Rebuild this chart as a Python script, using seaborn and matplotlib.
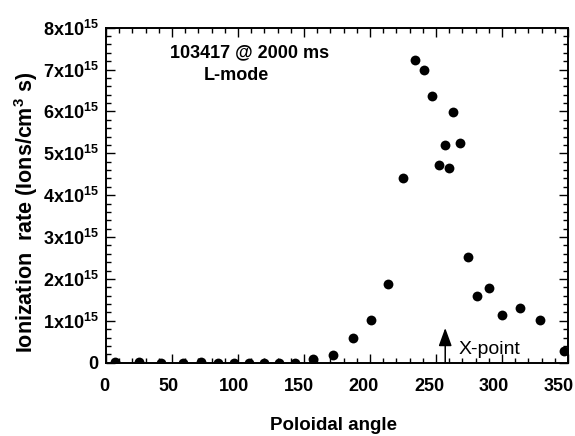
import matplotlib
matplotlib.use("Agg")
import matplotlib.pyplot as plt
import seaborn as sns
import pandas as pd
from matplotlib.ticker import MultipleLocator, FixedLocator, FuncFormatter
from matplotlib.transforms import ScaledTranslation

# poloidal angle (deg) and ionization rate (units of 1e15 ions/cm^3 s)
angle = [7, 25, 42, 58, 72, 85, 97, 108, 120, 131, 143, 157, 172, 187, 201,
         214, 225, 234, 241, 247, 252, 257, 260, 263, 268, 274, 281, 290,
         300, 314, 329, 347]
rate = [0.02, 0.01, 0.0, 0.0, 0.01, 0.0, 0.0, 0.0, 0.0, 0.0, 0.0, 0.08,
        0.19, 0.58, 1.02, 1.88, 4.40, 7.24, 6.99, 6.38, 4.73, 5.19, 4.65,
        5.98, 5.24, 2.53, 1.59, 1.78, 1.13, 1.30, 1.01, 0.28]
xticks = [0, 50, 100, 150, 200, 250, 300, 350]
yticks = [0, 1, 2, 3, 4, 5, 6, 7, 8]
xpoint_angle = 257
xpoint_arrow_top = 0.83

df = pd.DataFrame({"angle": angle, "rate": [r * 1e15 for r in rate]})

sns.set_style("ticks")
plt.rcParams["font.family"] = ["Liberation Sans", "DejaVu Sans"]
plt.rcParams["mathtext.fontset"] = "custom"
plt.rcParams["mathtext.rm"] = "Liberation Sans"
plt.rcParams["mathtext.bf"] = "Liberation Sans:bold"
plt.rcParams["mathtext.it"] = "Liberation Sans:italic"
for key in ["text.color", "axes.labelcolor", "xtick.color", "ytick.color",
            "axes.edgecolor"]:
    plt.rcParams[key] = "black"

fig = plt.figure(figsize=(5.75, 4.36), dpi=100)
ax = fig.add_axes([0.1843, 0.1681, 0.8035, 0.7684])

sns.scatterplot(data=df, x="angle", y="rate", color="black", s=50,
                linewidth=0, ax=ax, legend=False)

ax.set_xlim(0, 350)
ax.set_ylim(0, 8e15)

ax.xaxis.set_major_locator(FixedLocator(xticks))
ax.xaxis.set_minor_locator(MultipleLocator(10))
ax.yaxis.set_major_locator(FixedLocator([v * 1e15 for v in yticks]))
ax.yaxis.set_minor_locator(MultipleLocator(0.2e15))


def ylab(v, pos):
    n = int(round(v / 1e15))
    if n == 0:
        return r"$\mathbf{0}\hspace{1.6}$"
    return r"$\mathbf{%dx10^{15}}$" % n


ax.yaxis.set_major_formatter(FuncFormatter(ylab))
ax.set_xticklabels([str(t) for t in xticks], fontweight="bold")

ax.tick_params(which="both", direction="in", top=True, right=True,
               width=1.0, colors="black")
ax.tick_params(which="major", length=6.5, labelsize=13)
ax.tick_params(which="minor", length=3.6)
ax.tick_params(axis="x", which="major", pad=11)
ax.tick_params(axis="y", which="major", pad=5)

# the original x tick labels drift slightly left of their ticks
for i, lab in enumerate(ax.get_xticklabels()):
    shift = (2 + i * 1.0) / 100.0
    lab.set_transform(lab.get_transform()
                      + ScaledTranslation(-shift, 0, fig.dpi_scale_trans))

for sp in ax.spines.values():
    sp.set_visible(True)
    sp.set_linewidth(1.4)
    sp.set_color("black")

ax.set_xlabel("Poloidal angle", fontsize=13.5, fontweight="bold")
ax.xaxis.set_label_coords(0.493, -0.162)
ax.set_ylabel(r"Ionization  rate (Ions/cm$^{\mathbf{3}}$ s)", fontsize=15.5,
              fontweight="bold")
ax.yaxis.set_label_coords(-0.143, 0.45)

ax.text(108.7, 7.39e15, "103417 @ 2000 ms", fontsize=13, fontweight="bold",
        ha="center", va="center")
ax.text(98.5, 6.87e15, "L-mode", fontsize=13, fontweight="bold",
        ha="center", va="center")

ax.annotate("", xy=(xpoint_angle, xpoint_arrow_top * 1e15),
            xytext=(xpoint_angle, 0),
            arrowprops=dict(arrowstyle="-|>,head_length=0.55,head_width=0.2",
                            color="black", lw=1.1, shrinkA=0, shrinkB=0,
                            mutation_scale=20))
ax.text(267.4, 0.2e15, "X-point", fontsize=14, ha="left", va="baseline")

fig.savefig("out.png", dpi=100)
